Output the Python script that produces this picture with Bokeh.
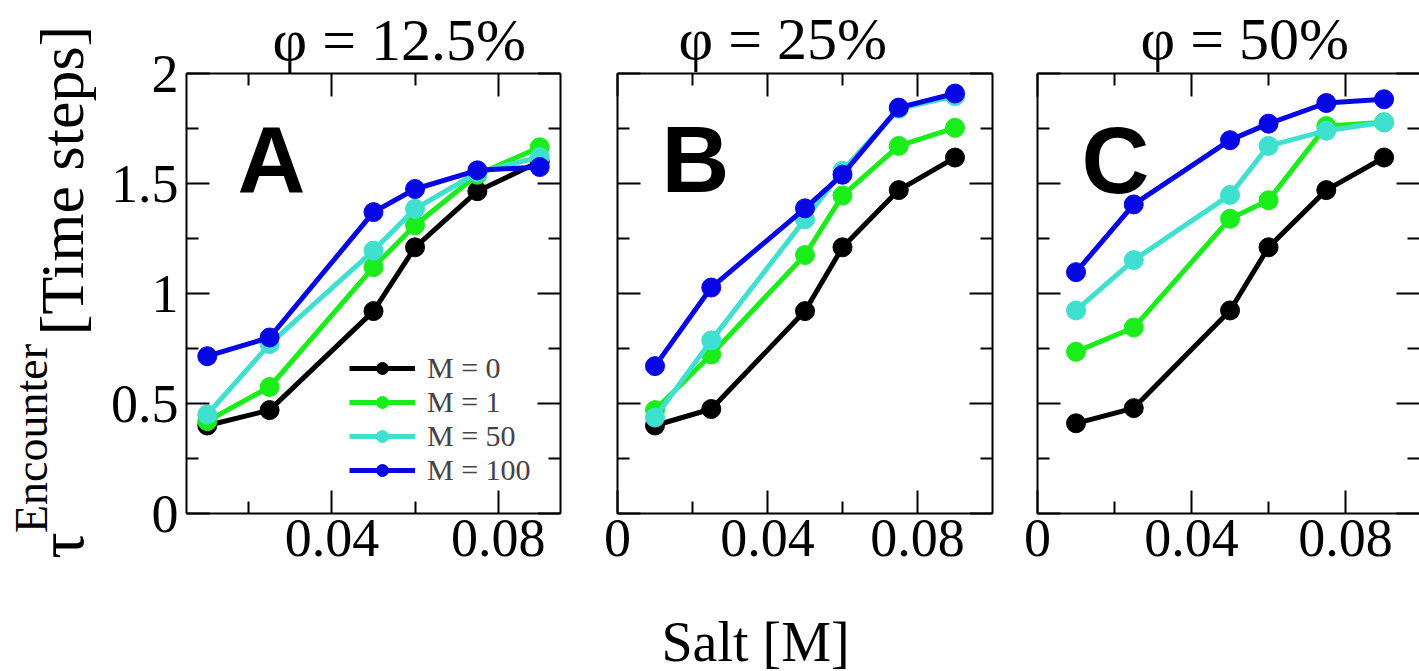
import math
from bokeh.plotting import figure
from bokeh.models import LinearAxis, FixedTicker, Range1d, Label, Legend, LegendItem, Title
from bokeh.layouts import row, column
from bokeh.embed import file_html
from bokeh.resources import INLINE

# ---------------- data ----------------
salt = [0.01, 0.025, 0.05, 0.06, 0.075, 0.09]
series_labels = ["M = 0", "M = 1", "M = 50", "M = 100"]
series_colors = ["#000000", "#1aee1a", "#40e0d0", "#0707e6"]
panel_titles = ["φ = 12.5%", "φ = 25%", "φ = 50%"]
panel_letters = ["A", "B", "C"]
x_title = "Salt [M]"
y_title_main = "[Time steps]"
y_title_sym = "τ"
y_title_sup = "Encounter"

a_m0 = [0.40, 0.47, 0.92, 1.21, 1.465, 1.60]
a_m1 = [0.42, 0.575, 1.12, 1.31, 1.54, 1.665]
a_m50 = [0.45, 0.77, 1.195, 1.385, 1.55, 1.62]
a_m100 = [0.715, 0.80, 1.37, 1.475, 1.56, 1.575]

b_m0 = [0.40, 0.475, 0.92, 1.21, 1.47, 1.618]
b_m1 = [0.47, 0.723, 1.175, 1.445, 1.671, 1.753]
b_m50 = [0.436, 0.787, 1.337, 1.558, 1.84, 1.897]
b_m100 = [0.67, 1.027, 1.387, 1.54, 1.845, 1.909]

c_m0 = [0.41, 0.479, 0.923, 1.21, 1.47, 1.618]
c_m1 = [0.735, 0.845, 1.34, 1.424, 1.761, 1.778]
c_m50 = [0.923, 1.152, 1.448, 1.671, 1.74, 1.778]
c_m100 = [1.097, 1.405, 1.697, 1.772, 1.866, 1.883]

x_major = [0, 0.04, 0.08]
x_minor = [0.02, 0.06]
x_tick_labels = {0: "0", 0.04: "0.04", 0.08: "0.08"}
y_major = [0, 0.5, 1, 1.5, 2]
y_minor = [0.25, 0.75, 1.25, 1.75]
y_tick_labels = {0: "0", 0.5: "0.5", 1: "1", 1.5: "1.5", 2: "2"}

SERIF = "Liberation Serif"
TICK_FS = "54px"
MAJOR_LEN = 23
MINOR_LEN = 12


def tick_style(ax):
    ax.major_tick_out = 0
    ax.minor_tick_out = 0
    ax.major_tick_line_width = 2
    ax.minor_tick_line_width = 2
    ax.major_tick_line_color = "black"
    ax.minor_tick_line_color = "black"
    ax.axis_line_width = 2


def add_side(p, side, major, minor, labels=None, line=True, standoff=6):
    if labels is not None:
        ax = LinearAxis(ticker=FixedTicker(ticks=major, minor_ticks=minor))
        tick_style(ax)
        ax.major_tick_in = MAJOR_LEN
        ax.minor_tick_in = MINOR_LEN
        ax.major_label_overrides = labels
        ax.major_label_text_font = SERIF
        ax.major_label_text_font_size = TICK_FS
        ax.major_label_text_color = "black"
        ax.major_label_standoff = standoff
        ax.axis_line_color = "black" if line else None
        p.add_layout(ax, side)
    else:
        # long ticks (major positions) and short ticks (minor positions), no labels
        ax1 = LinearAxis(ticker=FixedTicker(ticks=[], minor_ticks=major))
        tick_style(ax1)
        ax1.minor_tick_in = MAJOR_LEN
        ax1.major_label_standoff = 0
        ax1.axis_line_color = "black" if line else None
        p.add_layout(ax1, side)
        ax2 = LinearAxis(ticker=FixedTicker(ticks=[], minor_ticks=minor))
        tick_style(ax2)
        ax2.minor_tick_in = MINOR_LEN
        ax2.major_label_standoff = 0
        ax2.axis_line_color = None
        p.add_layout(ax2, side)


def make_panel(xr, width, mb_left, mb_right, series, show_y, title, t_offset, t_standoff,
               right_line=True):
    ttl = Title(text=title, text_font=SERIF, text_font_size="60px", text_font_style="normal",
                text_color="black", align="left", offset=t_offset, standoff=t_standoff,
                vertical_align="bottom")
    p = figure(width=width, height=593, x_range=Range1d(*xr), y_range=Range1d(0, 2),
               output_backend="svg", toolbar_location=None, title=ttl,
               x_axis_location=None, y_axis_location=None,
               min_border_left=mb_left, min_border_right=mb_right,
               min_border_top=73, min_border_bottom=80)
    p.outline_line_color = None
    for g in p.grid:
        g.visible = False
    p.background_fill_color = "white"
    p.border_fill_color = "white"

    add_side(p, "below", x_major, x_minor, x_tick_labels)
    add_side(p, "left", y_major, y_minor, y_tick_labels if show_y else None, standoff=8)
    add_side(p, "above", x_major, x_minor, None)
    add_side(p, "right", y_major, y_minor, None, line=right_line)

    items = []
    for vals, color, lab in zip(series, series_colors, series_labels):
        ln = p.line(salt, vals, line_color=color, line_width=5)
        sc = p.scatter(salt, vals, size=19, fill_color=color, line_color=color)
        items.append(LegendItem(label=lab, renderers=[ln, sc]))
    return p, items


def blank(width, height):
    p = figure(width=width, height=height, x_range=Range1d(0, width), y_range=Range1d(0, height),
               output_backend="svg", toolbar_location=None,
               x_axis_location=None, y_axis_location=None, min_border=0)
    p.outline_line_color = None
    for g in p.grid:
        g.visible = False
    p.background_fill_color = "white"
    p.border_fill_color = "white"
    return p


def lab(p, x, y, text, font, size, angle=0.0, style="normal"):
    p.add_layout(Label(x=x, y=y, x_units="screen", y_units="screen", text=text,
                       text_font=font, text_font_size=size, text_font_style=style,
                       text_align="center", text_baseline="middle", angle=angle,
                       text_color="black"))


pA, itemsA = make_panel((0.005, 0.095), 488, 86, 28, [a_m0, a_m1, a_m50, a_m100], True,
                        panel_titles[0], 86, 2)
pB, _ = make_panel((0.0, 0.1), 422, 29, 18, [b_m0, b_m1, b_m50, b_m100], False,
                   panel_titles[1], 61, 4)
pC, _ = make_panel((0.0, 0.0992), 409, 27, 0, [c_m0, c_m1, c_m50, c_m100], False,
                   panel_titles[2], 103, 3, right_line=False)

legend = Legend(items=itemsA, location=(163, 26), orientation="vertical",
                glyph_width=66, glyph_height=30, label_height=30, spacing=0,
                label_standoff=12, padding=0, margin=0,
                label_text_font=SERIF, label_text_font_size="30px",
                border_line_color=None, background_fill_alpha=0)
pA.add_layout(legend, "center")

# panel letters (inside frames)
for p, (lx, ly), t in zip([pA, pB, pC], [(85, 353), (78, 354), (78, 353)], panel_letters):
    lab(p, lx, ly, t, "Liberation Sans", "94px", style="bold")

# bottom strip with x-axis title
bottom = blank(1319, 78)
lab(bottom, 655, 30, x_title, SERIF, "56px")

# left strip with y-axis title: tau^Encounter [Time steps]
left = blank(100, 671)
lab(left, 61, 491, y_title_main, SERIF, "62px", angle=math.pi / 2)
lab(left, 31, 233, y_title_sup, SERIF, "46px", angle=math.pi / 2)
lab(left, 60, 126, y_title_sym, SERIF, "66px", angle=math.pi / 2)

layout = row(left, column(row(pA, pB, pC), bottom))
open("out.html", "w").write(file_html(layout, INLINE))
